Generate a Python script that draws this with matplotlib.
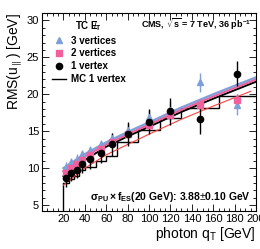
import matplotlib
matplotlib.use('Agg')
import matplotlib.pyplot as plt
from matplotlib.lines import Line2D
from matplotlib.ticker import MultipleLocator

plt.rcParams['font.family'] = ['Liberation Sans', 'DejaVu Sans']
plt.rcParams['mathtext.fontset'] = 'custom'
plt.rcParams['mathtext.rm'] = 'Liberation Sans'
plt.rcParams['mathtext.it'] = 'Liberation Sans'
plt.rcParams['mathtext.bf'] = 'Liberation Sans:bold'

# qT bins (MC histogram) and bin centres for the data
bin_edges = [20, 25, 30, 35, 40, 50, 60, 70, 90, 110, 130, 165, 200]
qt = [22.5, 27.5, 32.5, 37.5, 45, 55, 65, 80, 100, 120, 147.5, 182.5]

# RMS(u_par) per vertex multiplicity
rms_3vtx = [10.2, 10.8, 11.3, 11.9, 12.4, 13.2, 14.1, 15.2, 16.9, 17.9, 21.6, 18.6]
err_3vtx = [0.6, 0.6, 0.6, 0.6, 0.6, 0.6, 0.7, 0.8, 0.9, 1.0, 1.3, 1.4]
rms_2vtx = [9.4, 10.0, 10.5, 11.1, 11.8, 12.6, 13.5, 14.6, 15.8, 17.2, 18.6, 19.2]
err_2vtx = [0.4, 0.4, 0.4, 0.4, 0.4, 0.4, 0.5, 0.6, 0.7, 0.7, 0.8, 0.9]
rms_1vtx = [8.6, 9.4, 9.8, 10.6, 11.2, 12.1, 13.2, 14.6, 16.3, 17.7, 16.6, 22.8]
err_1vtx = [1.2, 1.2, 1.2, 1.2, 1.3, 1.4, 1.5, 1.6, 1.7, 1.8, 2.0, 1.7]

# MC 1 vertex histogram
mc_1vtx = [8.0, 8.5, 9.0, 9.8, 10.2, 11.0, 11.6, 13.6, 15.2, 16.8, 18.2, 19.7]

# fitted curves
fit_x = [20, 40, 60, 80, 100, 130, 160, 200]
fit_3vtx = [10.0, 11.9, 13.5, 14.9, 16.2, 18.2, 20.0, 22.3]
fit_2vtx = [9.6, 11.6, 13.2, 14.6, 15.9, 17.9, 19.7, 22.0]
fit_1vtx = [8.9, 11.1, 12.9, 14.3, 15.6, 17.6, 19.4, 21.7]
fit_red_x = [20, 40, 60, 80, 100, 130, 160, 195]
fit_red = [7.7, 10.0, 11.8, 13.2, 14.6, 16.6, 18.4, 20.4]

BLUE = '#7f9fd8'
PINK = '#f0609a'

fig = plt.figure(figsize=(2.6, 2.49), dpi=100)
ax = fig.add_axes([0.1615, 0.1526, 0.8235, 0.7954])

# MC step histogram
ax.stairs(mc_1vtx, bin_edges, color='black', lw=1.0, baseline=None)
ax.plot([20, 20], [4.2, mc_1vtx[0]], color='black', lw=1.0)

ax.plot(fit_red_x, fit_red, color='#ff4040', lw=0.8)
ax.plot(fit_x, fit_1vtx, color='black', lw=1.4)
ax.plot(fit_x, fit_2vtx, color=PINK, lw=1.6)
ax.plot(fit_x, fit_3vtx, color=BLUE, lw=1.6)

ax.errorbar(qt, rms_3vtx, yerr=err_3vtx, fmt='^', color=BLUE, ms=4.5, elinewidth=1.0, capsize=0)
ax.errorbar(qt, rms_2vtx, yerr=err_2vtx, fmt='s', color=PINK, ms=4, elinewidth=1.0, capsize=0)
ax.errorbar(qt, rms_1vtx, yerr=err_1vtx, fmt='o', color='black', ms=4.5, elinewidth=1.0, capsize=0)

ax.set_xlim(0, 200)
ax.set_ylim(4.2, 31)
ax.xaxis.set_minor_locator(MultipleLocator(5))
ax.yaxis.set_major_locator(MultipleLocator(5))
ax.yaxis.set_minor_locator(MultipleLocator(1))
ax.set_xticks(range(20, 201, 20))
ax.tick_params(which='both', direction='in', top=True, right=True, labelsize=8, pad=2)
ax.tick_params(which='major', length=5, width=0.6)
ax.tick_params(which='minor', length=2.5, width=0.6)
for s in ax.spines.values():
    s.set_linewidth(0.8)

ax.set_xlabel(r'photon q$_\mathrm{T}$ [GeV]', fontsize=10, loc='right', labelpad=1)
ax.set_ylabel(r'RMS(u$_{\parallel}$) [GeV]', fontsize=10, loc='top', labelpad=2)

handles = [
    Line2D([], [], marker='^', ls='none', color=BLUE, ms=4.5),
    Line2D([], [], marker='s', ls='none', color=PINK, ms=4),
    Line2D([], [], marker='o', ls='none', color='black', ms=4.5),
    Line2D([], [], color='black', lw=1.0),
]
labels = ['3 vertices', '2 vertices', '1 vertex', 'MC 1 vertex']
leg = ax.legend(handles, labels, loc='upper left', bbox_to_anchor=(0.03, 0.99),
                frameon=False, prop={'weight': 'bold', 'size': 7},
                handlelength=1.4, handletextpad=0.5, labelspacing=0.3,
                borderaxespad=0, title=r'TC $\mathbf{E}\!\!\!/_\mathbf{T}$',
                title_fontproperties={'weight': 'bold', 'size': 7})

ax.text(0.975, 0.945, r'CMS, $\mathbf{\sqrt{s}}$ = 7 TeV, 36 pb$^{\mathbf{-1}}$',
        transform=ax.transAxes, ha='right', va='center', fontsize=6.5, fontweight='bold')
ax.text(0.975, 0.07, r'$\mathbf{\sigma_{PU}\times f_{ES}}$(20 GeV): 3.88$\pm$0.10 GeV',
        transform=ax.transAxes, ha='right', va='center', fontsize=7.5, fontweight='bold')

fig.savefig('out.png', dpi=100)
